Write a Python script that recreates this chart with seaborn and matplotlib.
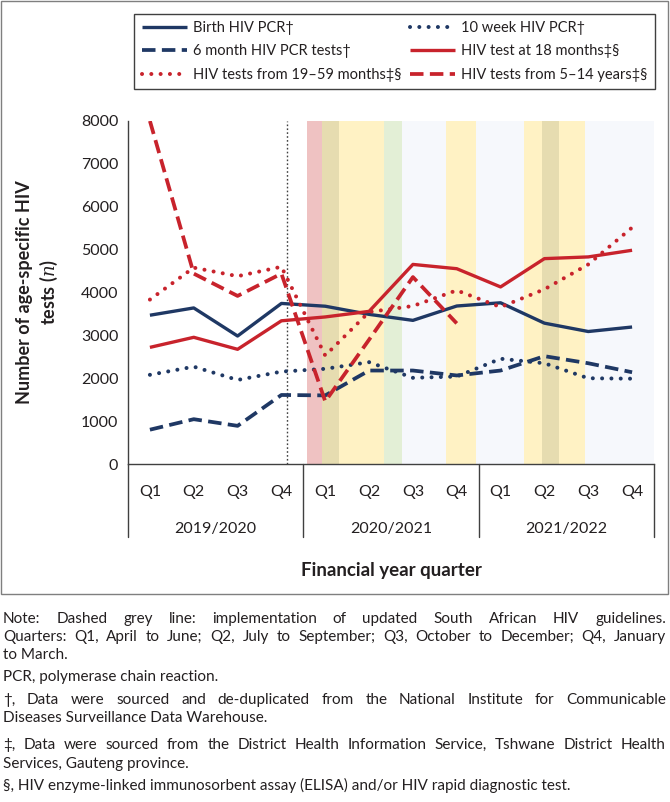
import numpy as np
import pandas as pd
import matplotlib
matplotlib.use('Agg')
import matplotlib.pyplot as plt
import matplotlib.transforms as mtransforms
from matplotlib.patches import Rectangle
import seaborn as sns

# quarters of the three financial years
quarter_labels = ['Q1', 'Q2', 'Q3', 'Q4'] * 3
year_labels = ['2019/2020', '2020/2021', '2021/2022']

# number of tests per quarter
birth_pcr = [3470, 3640, 2985, 3745, 3680, 3490, 3350, 3685, 3760, 3285, 3090, 3195]
week10_pcr = [2080, 2270, 1960, 2155, 2220, 2375, 2010, 2040, 2455, 2350, 2000, 1990]
month6_pcr = [800, 1045, 890, 1610, 1600, 2180, 2180, 2065, 2180, 2515, 2350, 2140]
month18_test = [2720, 2955, 2675, 3340, 3430, 3560, 4655, 4555, 4130, 4790, 4830, 4985]
month19_59_test = [3835, 4580, 4380, 4600, 2530, 3545, 3685, 4050, 3660, 4075, 4655, 5515]
year5_14_test = [8000, 4440, 3920, 4440, 1460, 2900, 4360, 3280, None, None, None, None]

# lockdown alert level periods, start/end in quarter units
lockdown_periods = [
    (3.59, 3.93, 'level 5'), (3.93, 4.31, 'level 4'), (4.31, 5.35, 'level 3'),
    (5.35, 5.74, 'level 2'), (5.74, 6.75, 'level 1'), (6.75, 7.45, 'level 3'),
    (7.45, 8.53, 'level 1'), (8.53, 8.94, 'level 3'), (8.94, 9.33, 'level 4'),
    (9.33, 9.93, 'level 3'), (9.93, 11.5, 'level 1'),
]
guideline_change = 3.13

level_colors = {'level 5': '#efc2c2', 'level 4': '#e6dcb0', 'level 3': '#fff2c4',
                'level 2': '#e3efd6', 'level 1': '#f6f8fc'}

NAVY = '#1f3864'
RED = '#c8232c'
GREY = '#404040'

df = pd.DataFrame({
    'quarter': np.arange(12),
    'Birth HIV PCR†': birth_pcr,
    '10 week HIV PCR†': week10_pcr,
    '6 month HIV PCR tests†': month6_pcr,
    'HIV test at 18 months‡§': month18_test,
    'HIV tests from 19–59 months‡§': month19_59_test,
    'HIV tests from 5–14 years‡§': year5_14_test,
})

dot = dict(linestyle=(0, (0.01, 2.3)), dash_capstyle='round', lw=2.9)
dash = dict(linestyle=(0, (3.6, 1.7)), dash_capstyle='butt', lw=2.7)
solid = dict(linestyle='-', lw=2.4, solid_capstyle='butt')
styles = {
    'Birth HIV PCR†': (NAVY, solid),
    '10 week HIV PCR†': (NAVY, dot),
    '6 month HIV PCR tests†': (NAVY, dash),
    'HIV test at 18 months‡§': (RED, solid),
    'HIV tests from 19–59 months‡§': (RED, dot),
    'HIV tests from 5–14 years‡§': (RED, dash),
}

sns.set_style('white')
plt.rcParams['font.family'] = ['Lato', 'DejaVu Sans']
plt.rcParams['mathtext.fontset'] = 'dejavuserif'
plt.rcParams['text.color'] = '#231f20'

W, H = 670, 802
fig = plt.figure(figsize=(W / 100, H / 100), dpi=100)
ax = fig.add_axes([128 / W, 1 - 464 / H, 526 / W, 343 / H])

for start, end, level in lockdown_periods:
    ax.axvspan(start, end, color=level_colors[level], lw=0, zorder=0)
ax.axvline(guideline_change, color=GREY, lw=1, linestyle=(0, (1.2, 1.6)), zorder=1)

for name, (col, st) in styles.items():
    d = df[['quarter', name]].dropna()
    sns.lineplot(x=d['quarter'], y=d[name].astype(float), ax=ax, color=col,
                 label=name, zorder=3, **st)

if ax.get_legend() is not None:
    ax.get_legend().remove()

ax.set_xlim(-0.5, 11.5)
ax.set_ylim(0, 8000)
ax.set_yticks(np.arange(0, 8001, 1000))
ax.set_xticks(np.arange(-0.5, 12, 1))
ax.set_xticklabels([])
ax.set_xlabel('')
ax.set_ylabel('')
sns.despine(ax=ax)
for s in ['left', 'bottom']:
    ax.spines[s].set_color(GREY)
    ax.spines[s].set_linewidth(1)
ax.tick_params(axis='y', length=4, width=1, color=GREY, labelsize=11.5, labelcolor='#231f20', pad=3)
ax.tick_params(axis='x', length=6, width=1, color=GREY)

trans = mtransforms.blended_transform_factory(ax.transData, ax.transAxes)
for i, q in enumerate(quarter_labels):
    ax.text(i, -0.082, q, transform=trans, ha='center', va='center', fontsize=11.5)
for k, yr in enumerate(year_labels):
    ax.text(4 * k + 1.5, -0.19, yr, transform=trans, ha='center', va='center', fontsize=11.5)
for xb in [-0.5, 3.5, 7.5, 11.5]:
    ax.plot([xb, xb], [0, -0.213], transform=trans, color=GREY, lw=1, clip_on=False)
ax.text(5.5, -0.31, 'Financial year quarter', transform=trans, ha='center', va='center',
        fontsize=13.5, fontweight='bold')

fig.text(38 / W, 1 - 292 / H, 'Number of age-specific HIV\ntests ($n$)', rotation=90,
         ha='center', va='center', multialignment='center', fontsize=13,
         fontweight='bold', linespacing=1.25)

handles, labels = ax.get_legend_handles_labels()
order = [0, 2, 4, 1, 3, 5]
leg = fig.legend([handles[i] for i in order], [labels[i] for i in order],
                 loc='center', bbox_to_anchor=(127 / W, 1 - 94 / H, 535 / W, 85 / H),
                 mode='expand', ncol=2, fontsize=10.5, frameon=True, fancybox=False,
                 edgecolor=GREY, framealpha=1, handlelength=3.1, handletextpad=0.4,
                 labelspacing=0.65, borderpad=0.5)
leg.get_frame().set_linewidth(1)

fig.patches.append(Rectangle((1 / W, 1 - 594 / H), 667 / W, 593 / H, transform=fig.transFigure,
                             fill=False, edgecolor='#7f7f7f', lw=1))

notes = [
    ('Note: Dashed grey line: implementation of updated South African HIV guidelines.', 619, True),
    ('Quarters: Q1, April to June; Q2, July to September; Q3, October to December; Q4, January', 637, True),
    ('to March.', 655, False),
    ('PCR, polymerase chain reaction.', 677, False),
    ('†, Data were sourced and de-duplicated from the National Institute for Communicable', 700, True),
    ('Diseases Surveillance Data Warehouse.', 718, False),
    ('‡, Data were sourced from the District Health Information Service, Tshwane District Health', 745, True),
    ('Services, Gauteng province.', 764, False),
    ('§, HIV enzyme-linked immunosorbent assay (ELISA) and/or HIV rapid diagnostic test.', 785, False),
]
note_size = 11
renderer = fig.canvas.get_renderer()
x_left, x_right = 3, 666
for line, ypx, justify in notes:
    yf = 1 - ypx / H
    if not justify:
        fig.text(x_left / W, yf, line, ha='left', va='center', fontsize=note_size)
        continue
    words = line.split(' ')
    arts = [fig.text(0, yf, w, ha='left', va='center', fontsize=note_size) for w in words]
    widths = [a.get_window_extent(renderer).width for a in arts]
    gap = max((x_right - x_left - sum(widths)) / (len(words) - 1), 2.5)
    x = x_left
    for a, w in zip(arts, widths):
        a.set_x(x / W)
        x += w + gap

fig.savefig('out.png', dpi=100)
